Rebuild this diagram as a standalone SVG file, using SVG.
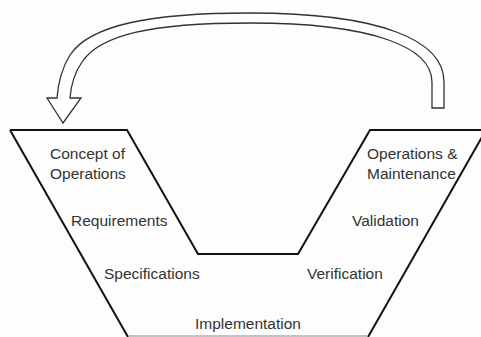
<svg xmlns="http://www.w3.org/2000/svg" width="481" height="337" viewBox="0 0 481 337">
<style>
.t{font-family:"Liberation Sans",Arial,sans-serif;font-size:15.5px;fill:#333}
.v{fill:none;stroke:#111;stroke-width:2;stroke-linejoin:miter}
.arr{fill:#fff;stroke:#333;stroke-width:1.3;stroke-linejoin:miter}
</style>
<rect width="481" height="337" fill="#fdfdfd"/>
<g id="vshape">
<path class="v" d="M10,130 L127,130 L198,254 L298,254 L370,130 L490,130"/>
<path class="v" d="M10,130 L128,337"/>
<path class="v" d="M486,130 L368,337"/>
<path d="M128,336 L368,336" fill="none" stroke="#888" stroke-width="1"/>
</g>
<g id="connectors">
<path class="arr" d="M444,108 L444,82 C444,40 380,13 250,13 C150,13 90,25 70,55 C62,68 58,85 57,98 L47,98 L63,123 L81,98 L70,98 C71,85 75,72 82,62 C100,35 150,23 250,23 C375,23 432,48 432,82 L432,108 Z"/>
</g>
<g id="concept"><text class="t" x="50" y="159">Concept of</text><text class="t" x="50" y="179">Operations</text></g>
<g id="requirements"><text class="t" x="71" y="226">Requirements</text></g>
<g id="specifications"><text class="t" x="104" y="279">Specifications</text></g>
<g id="implementation"><text class="t" x="195" y="329">Implementation</text></g>
<g id="opsmaint"><text class="t" x="367" y="159">Operations &amp;</text><text class="t" x="367" y="179">Maintenance</text></g>
<g id="validation"><text class="t" x="352" y="226">Validation</text></g>
<g id="verification"><text class="t" x="307" y="279">Verification</text></g>
</svg>
